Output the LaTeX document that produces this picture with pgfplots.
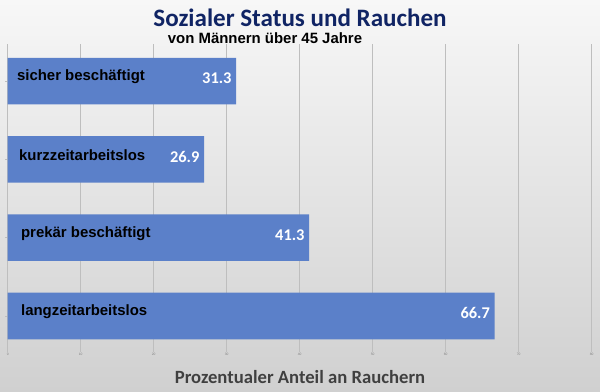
\documentclass[border=0pt]{standalone}
\usepackage{fontspec}
\setmainfont{Liberation Sans}
\newfontfamily\calib{Carlito}
\usepackage{pgfplots}
\pgfplotsset{compat=1.18}
\definecolor{barblue}{RGB}{91,128,201}
\definecolor{titleblue}{RGB}{16,36,100}
\definecolor{gridgray}{RGB}{190,190,190}
\begin{document}
\begin{tikzpicture}
\useasboundingbox (0,0) rectangle (450pt,294pt);
\shade[top color={rgb,255:red,247;green,247;blue,247}, bottom color={rgb,255:red,208;green,208;blue,208}] (0,0) rectangle (450pt,294pt);
\begin{axis}[
  at={(5.8pt,37.5pt)}, anchor=south west,
  scale only axis, width=438pt, height=223.5pt,
  xbar, bar width=35pt,
  xmin=0, xmax=80,
  ymin=-0.333, ymax=3.474,
  xtick={0,10,...,80},
  xtick pos=bottom, ytick pos=left,
  xmajorgrids, grid style={gridgray, line width=0.4pt},
  axis line style={draw=none},
  tick align=outside,
  major tick length=7.5pt,
  xtick style={gridgray, line width=0.4pt},
  ytick={0,1,2,3}, yticklabels={},
  ytick style={gridgray, line width=0.4pt, /pgfplots/major tick length=2pt},
  xticklabel style={font=\fontsize{2.5}{3}\selectfont, text=gray, inner sep=1pt},
  /pgf/number format/assume math mode=true,
  nodes near coords,
  every node near coord/.append style={anchor=east, text=white, font=\calib\bfseries\fontsize{12.3}{14}\selectfont, xshift=0pt, yshift=2pt},
  clip=false,
]
\addplot[fill=barblue, draw=none] coordinates {(31.3,3) (26.9,2) (41.3,1) (66.7,0)};
\node[anchor=west, font=\bfseries\fontsize{11.2}{13}\selectfont] at (axis cs:0,3) [xshift=3.5pt, yshift=3pt] {sicher beschäftigt};
\node[anchor=west, font=\bfseries\fontsize{11.2}{13}\selectfont] at (axis cs:0,2) [xshift=5pt, yshift=3pt] {kurzzeitarbeitslos};
\node[anchor=west, font=\bfseries\fontsize{11.2}{13}\selectfont] at (axis cs:0,1) [xshift=6.5pt, yshift=3pt] {prekär beschäftigt};
\node[anchor=west, font=\bfseries\fontsize{11.2}{13}\selectfont] at (axis cs:0,0) [xshift=6.5pt, yshift=3pt] {langzeitarbeitslos};
\end{axis}
\node[font=\calib\bfseries\fontsize{18.8}{22}\selectfont, text=titleblue] at (225pt,280.5pt) {Sozialer Status und Rauchen};
\node[font=\bfseries\fontsize{11.2}{13}\selectfont] at (198.75pt,265pt) {von Männern über 45 Jahre};
\node[font=\calib\bfseries\fontsize{14}{16}\selectfont, text={rgb,255:red,64;green,64;blue,64}] at (225pt,11.5pt) {Prozentualer Anteil an Rauchern};
\end{tikzpicture}
\end{document}
